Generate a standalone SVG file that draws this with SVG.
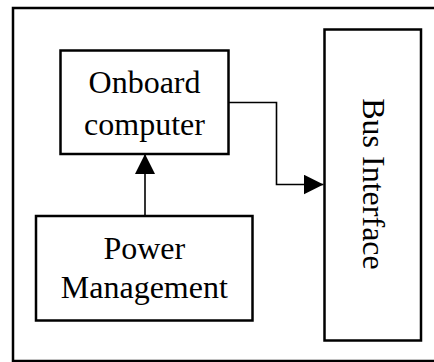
<svg xmlns="http://www.w3.org/2000/svg" width="434" height="362" viewBox="0 0 434 362">
<style>
.box{fill:#fff;stroke:#000;stroke-width:2.5}
.lbl{font-family:"Liberation Serif","Times New Roman",serif;font-size:32px;fill:#000;text-anchor:middle}
.conn{fill:none;stroke:#000;stroke-width:1.6}
</style>
<defs>
<marker id="arr" viewBox="0 0 20 20" refX="20" refY="10" markerWidth="20" markerHeight="20" markerUnits="userSpaceOnUse" orient="auto">
<path d="M0,0 L20,10 L0,20 Z" fill="#000"/>
</marker>
</defs>
<rect x="0" y="0" width="434" height="362" fill="#fff"/>
<rect id="frame" x="13" y="8" width="430" height="353" fill="none" stroke="#000" stroke-width="2.5"/>
<g id="onboard">
<rect class="box" x="60.5" y="50.5" width="168" height="103.5"/>
<text class="lbl" x="144.5" y="93">Onboard</text>
<text class="lbl" x="144.5" y="135">computer</text>
</g>
<g id="power">
<rect class="box" x="36" y="216" width="216.5" height="104.5"/>
<text class="lbl" x="144.3" y="259">Power</text>
<text class="lbl" x="144.3" y="298">Management</text>
</g>
<g id="bus">
<rect class="box" x="324.5" y="29.5" width="96.5" height="311"/>
<text class="lbl" transform="translate(363,184) rotate(90)" x="0" y="0">Bus Interface</text>
</g>
<g id="connectors">
<path class="conn" d="M228.5,102.5 H276.5 V184.5 H323.5" marker-end="url(#arr)"/>
<path class="conn" d="M145,216 V154" marker-end="url(#arr)"/>
</g>
</svg>
